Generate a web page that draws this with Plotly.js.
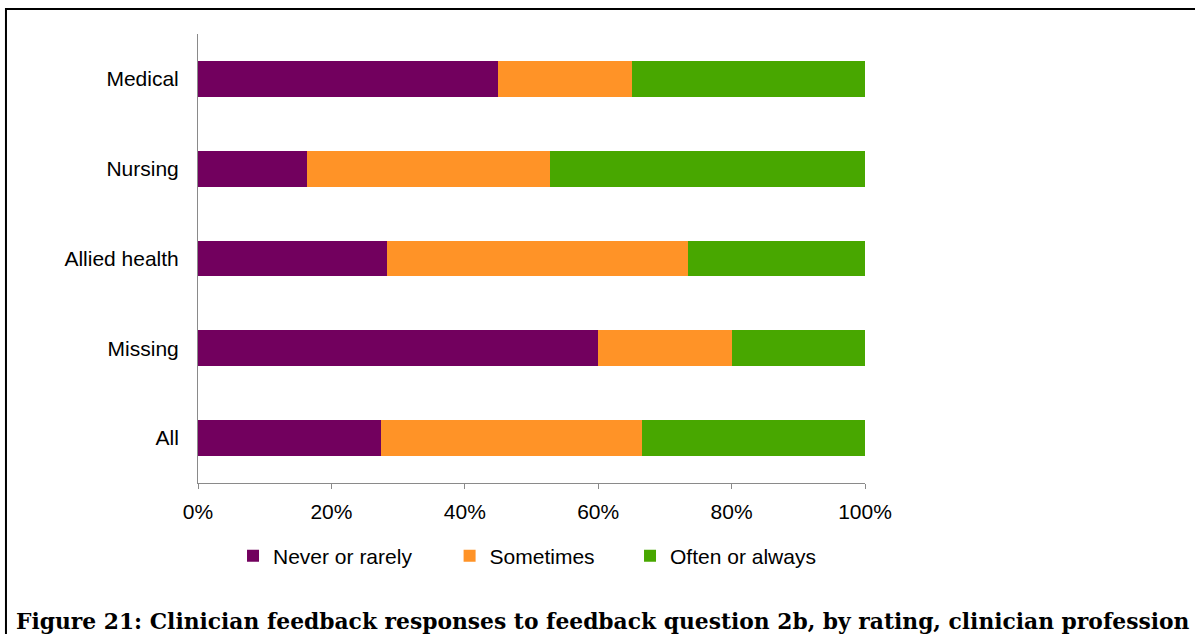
<!DOCTYPE html>
<html>
<head>
<meta charset="utf-8">
<script src="https://cdn.plot.ly/plotly-3.0.1.min.js"></script>
<style>
  html, body { margin: 0; padding: 0; background: #ffffff; }
  #chart { width: 1195px; height: 634px; }
</style>
</head>
<body>
<div id="chart"></div>
<script>
// Clinician profession groups, top to bottom
const professions = ['Medical', 'Nursing', 'Allied health', 'Missing', 'All'];

// Share of responses (%) for each rating
const neverOrRarely = [45.0, 16.3, 28.4, 60.0, 27.4];
const sometimes     = [20.0, 36.4, 45.1, 20.0, 39.1];
const oftenOrAlways = [35.0, 47.3, 26.5, 20.0, 33.5];

const ratingNames = ['Never or rarely', 'Sometimes', 'Often or always'];
const ratingColors = ['#72005E', '#FF9327', '#48A700'];

// Percentage axis ticks
const xTickVals = [0, 20, 40, 60, 80, 100];
const xTickText = ['0%', '20%', '40%', '60%', '80%', '100%'];

const captionText = 'Figure 21: Clinician feedback responses to feedback question 2b, by rating, clinician profession';

const seriesValues = [neverOrRarely, sometimes, oftenOrAlways];
const legendIds = ['legend', 'legend2', 'legend3'];

const traces = seriesValues.map((vals, i) => ({
  type: 'bar',
  orientation: 'h',
  name: ratingNames[i],
  x: vals,
  y: professions,
  marker: { color: ratingColors[i], line: { width: 0 } },
  legend: legendIds[i],
  hoverinfo: 'name+x'
}));

const legendFont = { family: 'Liberation Sans, Arial, sans-serif', size: 21, color: '#000000' };
function legendAt(x) {
  return {
    x: x, xanchor: 'left', xref: 'paper',
    y: -0.1626, yanchor: 'middle', yref: 'paper',
    orientation: 'h',
    bgcolor: 'rgba(0,0,0,0)',
    borderwidth: 0,
    font: legendFont
  };
}

const layout = {
  width: 1195,
  height: 634,
  margin: { l: 198, r: 330, t: 34, b: 151, pad: 0 },
  paper_bgcolor: '#ffffff',
  plot_bgcolor: '#ffffff',
  barmode: 'stack',
  bargap: 0.6,
  font: { family: 'Liberation Sans, Arial, sans-serif', size: 21, color: '#000000' },
  xaxis: {
    range: [0, 100],
    tickmode: 'array',
    tickvals: xTickVals,
    ticktext: xTickText,
    showgrid: false,
    zeroline: false,
    showline: true,
    linecolor: '#8a8a8a',
    linewidth: 1,
    ticks: 'outside',
    ticklen: 5,
    tickwidth: 1,
    tickcolor: '#8a8a8a',
    ticklabelstandoff: 5,
    tickfont: { size: 21, color: '#000000' },
    fixedrange: true
  },
  yaxis: {
    autorange: 'reversed',
    showgrid: false,
    zeroline: false,
    showline: true,
    linecolor: '#8a8a8a',
    linewidth: 1,
    ticks: '',
    ticklabelstandoff: 14,
    tickfont: { size: 21, color: '#000000' },
    fixedrange: true
  },
  showlegend: true,
  legend: legendAt(0.0525),
  legend2: legendAt(0.3772),
  legend3: legendAt(0.6477),
  annotations: [{
    text: captionText,
    xref: 'paper', yref: 'paper',
    x: -0.2759, xanchor: 'left',
    y: -0.3080, yanchor: 'middle',
    showarrow: false,
    font: { family: 'DejaVu Serif, serif', size: 21.8, color: '#000000', weight: 'bold' }
  }],
  shapes: [{
    type: 'rect',
    xref: 'paper', yref: 'paper',
    x0: -0.2879, x1: 1.52,
    y0: -0.40, y1: 1.0557,
    line: { color: '#000000', width: 2 },
    fillcolor: 'rgba(0,0,0,0)',
    layer: 'above'
  }]
};

Plotly.newPlot('chart', traces, layout, { displayModeBar: false, staticPlot: true });
</script>
</body>
</html>
